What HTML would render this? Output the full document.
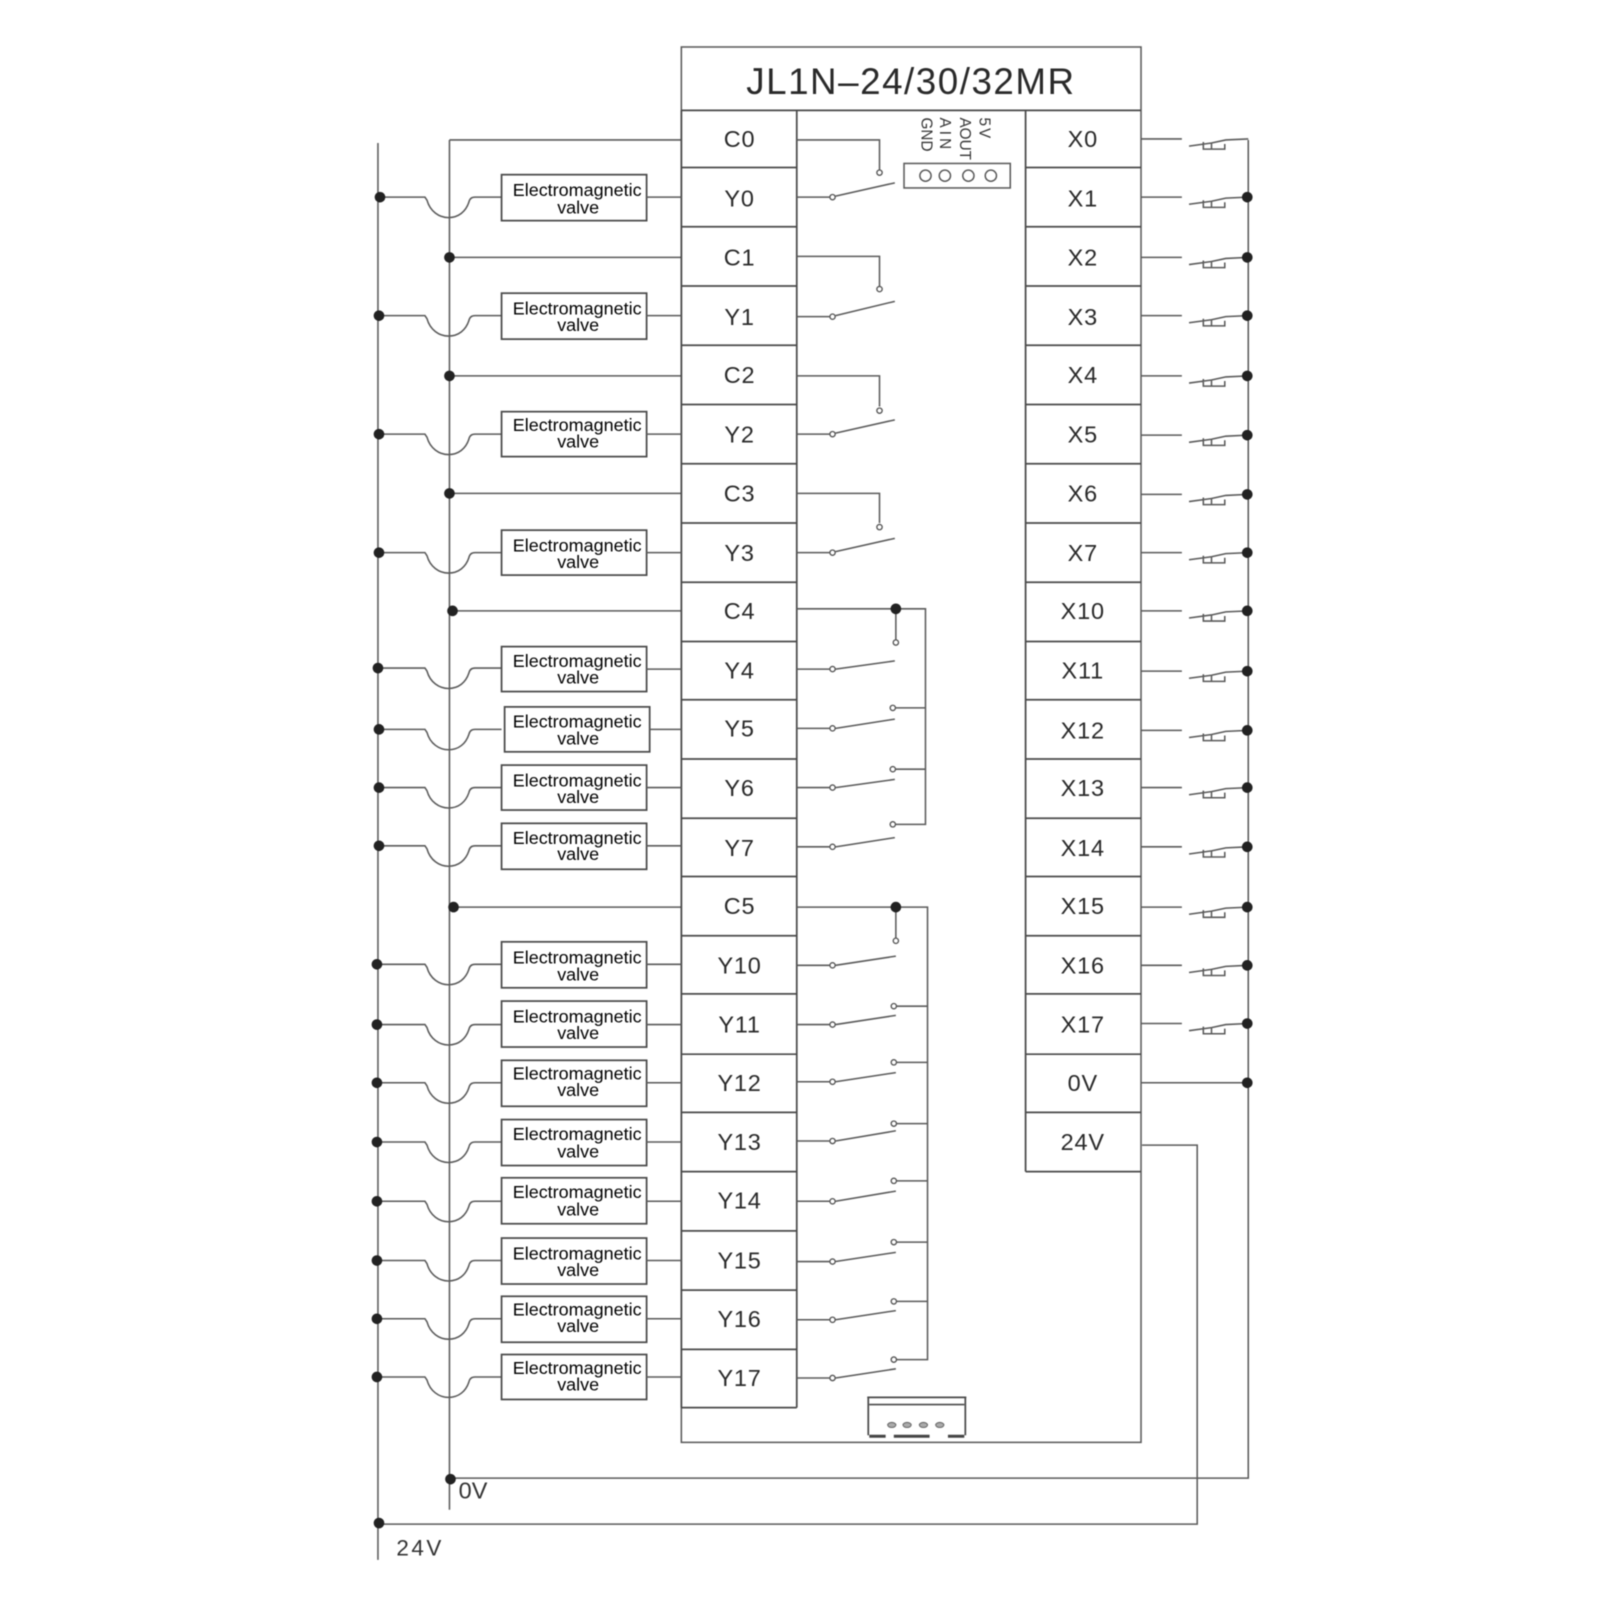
<!DOCTYPE html>
<html><head><meta charset="utf-8"><style>
html,body{margin:0;padding:0;background:#fff}
svg{display:block;filter:blur(0.45px)}
text{font-family:"Liberation Sans",sans-serif}
.l{stroke:#5a5a5a;stroke-width:1.5;fill:none}
.b{stroke:#4a4a4a;stroke-width:1.7;fill:none}
.v{font-size:17.6px;fill:#000;text-anchor:middle}
.t{font-size:23px;fill:#2a2a2a;text-anchor:middle;letter-spacing:.8px}
.r{font-size:15px;fill:#333}
</style></head><body>
<svg width="1601" height="1601" viewBox="0 0 1567.3 1567.3" xmlns="http://www.w3.org/2000/svg">
<defs>
<path id="hop" class="l" d="M371 0H416L418 3C421 14 430 20 439 20C449 20 456 14 459 5Q460 0 465 0H491"/>
<g id="sw"><path class="l" d="M1117 0H1157M1164 7L1186 4L1200 1L1222 0M1178 3V10H1199V5M1186 4V10"/></g>
<circle id="dot" r="5.2" fill="#222"/>
<circle id="o" r="2.6" fill="#fff" stroke="#555" stroke-width="1.3"/>
</defs>
<rect width="1567.3" height="1567.3" fill="#fff"/>

<!-- rails -->
<path class="l" d="M370 140V1527M440 137V1478M440 137H667"/>
<path class="l" d="M441 1447H1222V137M1118 1121H1172V1492H371"/>
<path class="l" d="M440 252H667M440 368H667M440 483H667M443 598H667M444 888H667M1117 1060H1222"/>

<!-- main box -->
<rect class="l" x="667" y="46" width="450" height="1366"/>
<path class="b" d="M667 108H1117M667 108V1378M780 108V1378M1004 108V1147M667 1378H780M1004 1147H1117"/>
<path class="b" d="M667 164H780M667 222H780M667 280H780M667 338H780M667 396H780M667 454H780M667 512H780M667 570H780M667 628H780M667 685H780M667 743H780M667 801H780M667 858H780M667 916H780M667 973H780M667 1032H780M667 1089H780M667 1147H780M667 1205H780M667 1263H780M667 1321H780"/>
<path class="b" d="M1004 164H1117M1004 222H1117M1004 280H1117M1004 338H1117M1004 396H1117M1004 454H1117M1004 512H1117M1004 570H1117M1004 628H1117M1004 685H1117M1004 743H1117M1004 801H1117M1004 858H1117M1004 916H1117M1004 973H1117M1004 1032H1117M1004 1089H1117"/>
<text x="891" y="92" font-size="36" fill="#2a2a2a" text-anchor="middle" textLength="321" lengthAdjust="spacing">JL1N–24/30/32MR</text>

<!-- left labels -->
<g class="t">
<text x="724" y="144">C0</text><text x="724" y="202">Y0</text><text x="724" y="260">C1</text><text x="724" y="318">Y1</text>
<text x="724" y="375">C2</text><text x="724" y="433">Y2</text><text x="724" y="491">C3</text><text x="724" y="549">Y3</text>
<text x="724" y="606">C4</text><text x="724" y="664">Y4</text><text x="724" y="721">Y5</text><text x="724" y="779">Y6</text>
<text x="724" y="838">Y7</text><text x="724" y="895">C5</text><text x="724" y="953">Y10</text><text x="724" y="1011">Y11</text>
<text x="724" y="1068">Y12</text><text x="724" y="1126">Y13</text><text x="724" y="1183">Y14</text><text x="724" y="1242">Y15</text>
<text x="724" y="1299">Y16</text><text x="724" y="1357">Y17</text>
</g>
<!-- right labels -->
<g class="t">
<text x="1060" y="144">X0</text><text x="1060" y="202">X1</text><text x="1060" y="260">X2</text><text x="1060" y="318">X3</text>
<text x="1060" y="375">X4</text><text x="1060" y="433">X5</text><text x="1060" y="491">X6</text><text x="1060" y="549">X7</text>
<text x="1060" y="606">X10</text><text x="1060" y="664">X11</text><text x="1060" y="723">X12</text><text x="1060" y="779">X13</text>
<text x="1060" y="838">X14</text><text x="1060" y="895">X15</text><text x="1060" y="953">X16</text><text x="1060" y="1011">X17</text>
<text x="1060" y="1068">0V</text><text x="1060" y="1126">24V</text>
</g>

<!-- valves -->
<g>
<use href="#hop" y="193"/><rect class="b" x="491" y="171" width="142" height="45" fill="#fff"/><path class="l" d="M633 193H667"/>
<text class="v" x="565" y="192">Electromagnetic</text><text class="v" x="566" y="209">valve</text>
<use href="#hop" y="309"/><rect class="b" x="491" y="287" width="142" height="45"/><path class="l" d="M633 309H667"/>
<text class="v" x="565" y="308">Electromagnetic</text><text class="v" x="566" y="324">valve</text>
<use href="#hop" y="425"/><rect class="b" x="491" y="403" width="142" height="44"/><path class="l" d="M633 425H667"/>
<text class="v" x="565" y="422">Electromagnetic</text><text class="v" x="566" y="438">valve</text>
<use href="#hop" y="541"/><rect class="b" x="491" y="519" width="142" height="44"/><path class="l" d="M633 541H667"/>
<text class="v" x="565" y="540">Electromagnetic</text><text class="v" x="566" y="556">valve</text>
<use href="#hop" y="654"/><rect class="b" x="491" y="633" width="142" height="44"/><path class="l" d="M633 655H667"/>
<text class="v" x="565" y="653">Electromagnetic</text><text class="v" x="566" y="669">valve</text>
<use href="#hop" y="714"/><rect class="b" x="494" y="692" width="142" height="44"/><path class="l" d="M636 714H667"/>
<text class="v" x="565" y="712">Electromagnetic</text><text class="v" x="566" y="729">valve</text>
<use href="#hop" y="771"/><rect class="b" x="491" y="749" width="142" height="44"/><path class="l" d="M633 771H667"/>
<text class="v" x="565" y="770">Electromagnetic</text><text class="v" x="566" y="786">valve</text>
<use href="#hop" y="828"/><rect class="b" x="491" y="806" width="142" height="45"/><path class="l" d="M633 828H667"/>
<text class="v" x="565" y="826">Electromagnetic</text><text class="v" x="566" y="842">valve</text>
<use href="#hop" y="944"/><rect class="b" x="491" y="922" width="142" height="45"/><path class="l" d="M633 944H667"/>
<text class="v" x="565" y="943">Electromagnetic</text><text class="v" x="566" y="960">valve</text>
<use href="#hop" y="1003"/><rect class="b" x="491" y="980" width="142" height="45"/><path class="l" d="M633 1003H667"/>
<text class="v" x="565" y="1001">Electromagnetic</text><text class="v" x="566" y="1017">valve</text>
<use href="#hop" y="1060"/><rect class="b" x="491" y="1038" width="142" height="45"/><path class="l" d="M633 1060H667"/>
<text class="v" x="565" y="1057">Electromagnetic</text><text class="v" x="566" y="1073">valve</text>
<use href="#hop" y="1118"/><rect class="b" x="491" y="1096" width="142" height="45"/><path class="l" d="M633 1118H667"/>
<text class="v" x="565" y="1116">Electromagnetic</text><text class="v" x="566" y="1133">valve</text>
<use href="#hop" y="1176"/><rect class="b" x="491" y="1153" width="142" height="45"/><path class="l" d="M633 1176H667"/>
<text class="v" x="565" y="1173">Electromagnetic</text><text class="v" x="566" y="1190">valve</text>
<use href="#hop" y="1234"/><rect class="b" x="491" y="1212" width="142" height="45"/><path class="l" d="M633 1234H667"/>
<text class="v" x="565" y="1233">Electromagnetic</text><text class="v" x="566" y="1249">valve</text>
<use href="#hop" y="1291"/><rect class="b" x="491" y="1269" width="142" height="45"/><path class="l" d="M633 1291H667"/>
<text class="v" x="565" y="1288">Electromagnetic</text><text class="v" x="566" y="1304">valve</text>
<use href="#hop" y="1348"/><rect class="b" x="491" y="1326" width="142" height="44"/><path class="l" d="M633 1348H667"/>
<text class="v" x="565" y="1345">Electromagnetic</text><text class="v" x="566" y="1361">valve</text>
</g>

<!-- left dots -->
<g>
<use href="#dot" x="372" y="193"/><use href="#dot" x="371" y="309"/><use href="#dot" x="371" y="425"/><use href="#dot" x="371" y="541"/>
<use href="#dot" x="370" y="654"/><use href="#dot" x="371" y="714"/><use href="#dot" x="371" y="771"/><use href="#dot" x="371" y="828"/>
<use href="#dot" x="369" y="944"/><use href="#dot" x="369" y="1003"/><use href="#dot" x="369" y="1060"/><use href="#dot" x="369" y="1118"/>
<use href="#dot" x="369" y="1176"/><use href="#dot" x="369" y="1234"/><use href="#dot" x="369" y="1291"/><use href="#dot" x="369" y="1348"/>
<use href="#dot" x="440" y="252"/><use href="#dot" x="440" y="368"/><use href="#dot" x="440" y="483"/><use href="#dot" x="443" y="598"/><use href="#dot" x="444" y="888"/>
<use href="#dot" x="441" y="1448"/><use href="#dot" x="371" y="1491"/>
</g>
<text x="449" y="1467" font-size="23" fill="#333">0V</text>
<text x="388" y="1523" font-size="22" fill="#333" letter-spacing="2.5">24V</text>

<!-- output contacts -->
<path class="l" d="M780 137H861V167M780 251H861V281M780 368H861V398M780 483H861V512"/>
<path class="l" d="M780 193H812M818 192L876 179M780 310H812M818 309L876 295M780 425H812M818 424L876 411M780 541H812M818 540L876 527"/>
<path class="l" d="M780 596H906V807H877M877 596V627M906 693H877M906 753H877"/>
<path class="l" d="M780 655H812M818 655L876 647M780 713H812M818 713L876 704M780 771H812M818 771L876 763M780 829H812M818 829L876 820"/>
<path class="l" d="M780 888H908V1331H877M877 888V919M908 985H877M908 1040H877M908 1100H877M908 1156H877M908 1216H877M908 1274H877"/>
<path class="l" d="M780 945H812M818 945L877 936M780 1003H812M818 1003L877 994M780 1059H812M818 1059L877 1050M780 1117H812M818 1117L877 1107M780 1176H812M818 1176L877 1166M780 1235H812M818 1235L877 1226M780 1292H812M818 1292L877 1283M780 1349H812M818 1349L877 1340"/>
<g>
<use href="#o" x="861" y="169"/><use href="#o" x="861" y="283"/><use href="#o" x="861" y="402"/><use href="#o" x="861" y="516"/>
<use href="#o" x="815" y="193"/><use href="#o" x="815" y="310"/><use href="#o" x="815" y="425"/><use href="#o" x="815" y="541"/>
<use href="#o" x="877" y="629"/><use href="#o" x="874" y="693"/><use href="#o" x="874" y="753"/><use href="#o" x="874" y="807"/>
<use href="#o" x="815" y="655"/><use href="#o" x="815" y="713"/><use href="#o" x="815" y="771"/><use href="#o" x="815" y="829"/>
<use href="#o" x="877" y="921"/><use href="#o" x="875" y="985"/><use href="#o" x="875" y="1040"/><use href="#o" x="875" y="1100"/><use href="#o" x="875" y="1156"/><use href="#o" x="875" y="1216"/><use href="#o" x="875" y="1274"/><use href="#o" x="875" y="1331"/>
<use href="#o" x="815" y="945"/><use href="#o" x="815" y="1003"/><use href="#o" x="815" y="1059"/><use href="#o" x="815" y="1117"/><use href="#o" x="815" y="1176"/><use href="#o" x="815" y="1235"/><use href="#o" x="815" y="1292"/><use href="#o" x="815" y="1349"/>
<use href="#dot" x="877" y="596"/><use href="#dot" x="877" y="888"/>
</g>

<!-- top connector -->
<rect class="l" x="885" y="160" width="104" height="24"/>
<g fill="none" stroke="#555" stroke-width="1.4"><circle cx="906" cy="172" r="5.5"/><circle cx="925" cy="172" r="5.5"/><circle cx="948" cy="172" r="5.5"/><circle cx="970" cy="172" r="5.5"/></g>
<text class="r" letter-spacing="2" transform="translate(959 115) rotate(90)">5V</text>
<text class="r" transform="translate(940 115) rotate(90)">AOUT</text>
<text class="r" letter-spacing="3" transform="translate(920 115) rotate(90)">AIN</text>
<text class="r" transform="translate(902 115) rotate(90)">GND</text>

<!-- bottom connector -->
<path class="b" d="M849 1368H946M851 1375H944M850 1368V1405M945 1368V1405"/>
<path d="M851 1406H867M875 1406H910M928 1406H944" stroke="#444" stroke-width="3" fill="none"/>
<g fill="#aaa" stroke="#666"><ellipse cx="873" cy="1395" rx="4" ry="2.5"/><ellipse cx="888" cy="1395" rx="4" ry="2.5"/><ellipse cx="904" cy="1395" rx="4" ry="2.5"/><ellipse cx="920" cy="1395" rx="4" ry="2.5"/></g>

<!-- input contacts -->
<g>
<use href="#sw" y="136"/><use href="#sw" y="193"/><use href="#sw" y="252"/><use href="#sw" y="309"/><use href="#sw" y="368"/><use href="#sw" y="426"/>
<use href="#sw" y="484"/><use href="#sw" y="541"/><use href="#sw" y="598"/><use href="#sw" y="657"/><use href="#sw" y="715"/><use href="#sw" y="771"/>
<use href="#sw" y="829"/><use href="#sw" y="888"/><use href="#sw" y="945"/><use href="#sw" y="1002"/>
<use href="#dot" x="1221" y="193"/><use href="#dot" x="1221" y="252"/><use href="#dot" x="1221" y="309"/><use href="#dot" x="1221" y="368"/><use href="#dot" x="1221" y="426"/><use href="#dot" x="1221" y="484"/>
<use href="#dot" x="1221" y="541"/><use href="#dot" x="1221" y="598"/><use href="#dot" x="1221" y="657"/><use href="#dot" x="1221" y="715"/><use href="#dot" x="1221" y="771"/><use href="#dot" x="1221" y="829"/>
<use href="#dot" x="1221" y="888"/><use href="#dot" x="1221" y="945"/><use href="#dot" x="1221" y="1002"/><use href="#dot" x="1221" y="1060"/>
</g>
</svg>
</body></html>
